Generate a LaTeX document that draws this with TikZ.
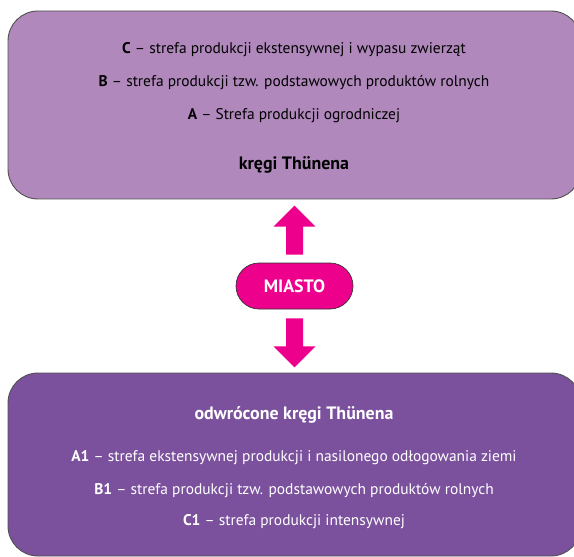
\documentclass[tikz,border=0pt]{standalone}
\usepackage{fontspec}
\setmainfont{PT Sans}
\usetikzlibrary{calc}
\definecolor{toppurple}{RGB}{176,136,188}
\definecolor{botpurple}{RGB}{123,81,157}
\definecolor{magentaX}{RGB}{236,0,140}
\definecolor{borderX}{RGB}{80,80,80}
\begin{document}
\begin{tikzpicture}[x=1bp,y=-1bp,
  boxstyle/.style={draw=borderX,line width=0.9bp,rounded corners=30bp},
  linetxt/.style={font=\fontsize{15.5}{18}\selectfont,anchor=base,inner sep=0pt},
  titletxt/.style={font=\fontsize{18}{21}\selectfont\bfseries,anchor=base,inner sep=0pt},
  fatarrow/.style={fill=magentaX,draw=none}]
\useasboundingbox (0,0) rectangle (574,557);
\begin{scope}
\clip (0,0) rectangle (574,557);
\draw[boxstyle,fill=toppurple] (8,11) rectangle (581,199);
\draw[boxstyle,fill=botpurple] (8,373) rectangle (581,556);
\end{scope}
\node[linetxt] (c) at (294,54) {\textbf{C} – strefa produkcji ekstensywnej i wypasu zwierząt};
\node[linetxt] (b) at (294,86.7) {\textbf{B} – strefa produkcji tzw. podstawowych produktów rolnych};
\node[linetxt] (a) at (294,120) {\textbf{A} – Strefa produkcji ogrodniczej};
\node[titletxt] (t1) at (294,170) {kręgi Thünena};
\node[titletxt,text=white] (t2) at (294,419.5) {odwrócone kręgi Thünena};
\node[linetxt,text=white] (a1) at (294,461.7) {\textbf{A1} – strefa ekstensywnej produkcji i nasilonego odłogowania ziemi};
\node[linetxt,text=white] (b1) at (294,494) {\textbf{B1} – strefa produkcji tzw. podstawowych produktów rolnych};
\node[linetxt,text=white] (c1) at (294,525.7) {\textbf{C1} – strefa produkcji intensywnej};
\node[draw=black!80,line width=0.7bp,fill=magentaX,rounded corners=23bp,minimum width=117bp,minimum height=46bp,inner sep=0pt,text=white,font=\fontsize{18}{21}\selectfont\bfseries] (m) at (294.5,286) {MIASTO};
\fill[fatarrow] ($(m.north)+(-8.5,-8)$) -- ++(0,-28) -- ++(-12.5,0) -- ($(m.north)+(0,-57)$) -- ($(m.north)+(21,-36)$) -- ++(-12.5,0) -- ++(0,28) -- cycle;
\fill[fatarrow] ($(m.south)+(-8.5,9)$) -- ++(0,28) -- ++(-12.5,0) -- ($(m.south)+(0,58)$) -- ($(m.south)+(21,37)$) -- ++(-12.5,0) -- ++(0,-28) -- cycle;
\end{tikzpicture}
\end{document}
